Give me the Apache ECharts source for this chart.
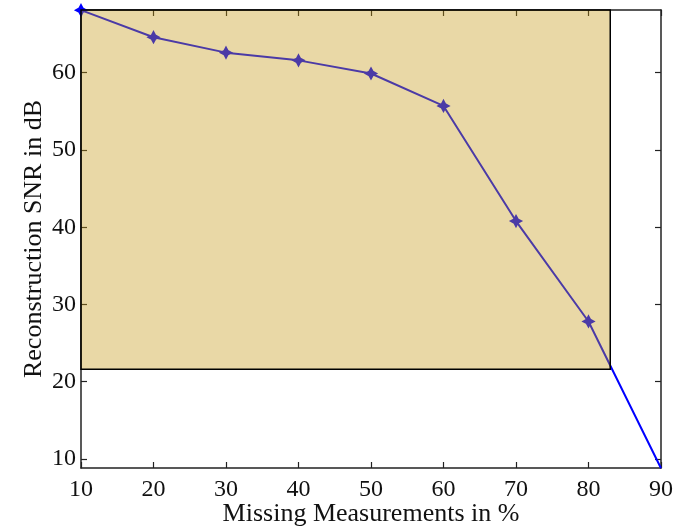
<!DOCTYPE html>
<html>
<head>
<meta charset="utf-8">
<script src="https://cdn.jsdelivr.net/npm/echarts@6/dist/echarts.min.js"></script>
<style>
html, body { margin: 0; padding: 0; background: #fff; }
#chart { width: 687px; height: 526px; }
</style>
</head>
<body>
<div id="chart"></div>
<script>
// data
var missing = [10, 20, 30, 40, 50, 60, 70, 80, 90];
var snr = [68.1, 64.6, 62.6, 61.6, 59.9, 55.7, 40.8, 27.8, 8.8];
var yTicks = [10, 20, 30, 40, 50, 60];
var xRange = [10, 90];
var yRange = [8.83, 68.12];
// shaded box: x from..to, y from..to (data units)
var boxX = [10, 83];
var boxY = [21.6, 68.12];

var font = 'Liberation Serif';

function axisBase(show) {
    return {
        nameMoveOverlap: false,
        axisLine: { show: true, lineStyle: { color: '#222', width: 1.5 } },
        axisTick: { show: true, inside: true, length: 6, lineStyle: { color: '#222', width: 1.2 } },
        axisLabel: { show: show, color: '#111', fontFamily: font, fontSize: 24, margin: 10 },
        splitLine: { show: false }
    };
}

function yAxisBase(show) {
    var a = axisBase(show);
    a.axisTick.customValues = yTicks;
    a.axisLabel.customValues = yTicks;
    a.axisLabel.margin = 5;
    return a;
}

var points = missing.map(function (x, i) { return [x, snr[i]]; });

var myChart = echarts.init(document.getElementById('chart'));
myChart.setOption({
    animation: false,
    grid: { left: 81, right: 26, top: 10, bottom: 58, containLabel: false, outerBoundsMode: 'none' },
    xAxis: [
        Object.assign(axisBase(true), {
            type: 'value', position: 'bottom',
            min: xRange[0], max: xRange[1], interval: 10,
            name: 'Missing Measurements in %',
            nameLocation: 'middle', nameGap: 33,
            nameTextStyle: { color: '#111', fontFamily: font, fontSize: 26 }
        }),
        Object.assign(axisBase(false), {
            type: 'value', position: 'top',
            min: xRange[0], max: xRange[1], interval: 10
        })
    ],
    yAxis: [
        Object.assign(yAxisBase(true), {
            type: 'value', position: 'left',
            min: yRange[0], max: yRange[1],
            name: 'Reconstruction SNR in dB',
            nameLocation: 'middle', nameGap: 34, nameRotate: 90,
            nameTextStyle: { color: '#111', fontFamily: font, fontSize: 26 }
        }),
        Object.assign(yAxisBase(false), {
            type: 'value', position: 'right',
            min: yRange[0], max: yRange[1]
        })
    ],
    series: [
        {
            type: 'line',
            data: points,
            z: 2,
            lineStyle: { color: '#0000ff', width: 2 },
            symbol: 'path://M0,-1L0.35,-0.35L1,0L0.35,0.35L0,1L-0.35,0.35L-1,0L-0.35,-0.35Z',
            symbolSize: 10,
            itemStyle: { color: '#0000ff', borderColor: '#0000ff', borderWidth: 2 }
        },
        {
            type: 'custom',
            z: 5,
            silent: true,
            data: [[boxX[0], boxY[1], boxX[1], boxY[0]]],
            renderItem: function (params, api) {
                var p1 = api.coord([api.value(0), api.value(1)]);
                var p2 = api.coord([api.value(2), api.value(3)]);
                return {
                    type: 'rect',
                    shape: { x: p1[0], y: p1[1], width: p2[0] - p1[0], height: p2[1] - p1[1] },
                    style: { fill: 'rgba(197,153,21,0.38)', stroke: '#000', lineWidth: 1.5 }
                };
            }
        }
    ]
});
</script>
</body>
</html>
